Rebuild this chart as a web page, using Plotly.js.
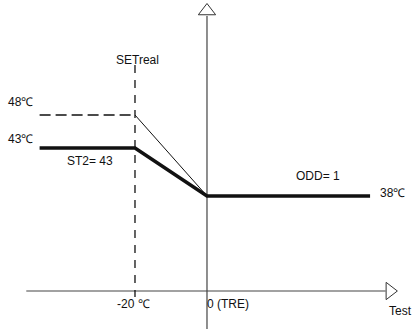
<!DOCTYPE html>
<html><head><meta charset="utf-8">
<script src="https://cdn.plot.ly/plotly-3.0.1.min.js"></script>
<style>html,body{margin:0;padding:0;background:#fff}#c{width:416px;height:329px}</style>
</head><body><div id="c"></div>
<script>
// Schematic: x = outside temperature (°C), y = schematic setpoint level
const st2X = [-46.5, -20, 0, 45.3];
const st2Level = [143, 143, 95, 95];      // thick line (43℃ -> 38℃)
const maxFlatX = [-46.5, -20];
const maxFlatLevel = [176, 176];          // dashed 48℃ part
const maxSlopeX = [-20, 0];
const maxSlopeLevel = [176, 95];          // thin slope to 38℃
const setrealX = [-20, -20];
const setrealLevel = [226, -6];
const xAxisX = [-50.2, 49.6];
const yAxisLevel = [-40, 275];
const labels = ["48℃", "43℃", "ST2= 43", "SETreal", "ODD= 1", "38℃", "-20 ℃", "0 (TRE)", "Test"];
const labelX = [-51.7, -51.7, -32.6, -19.2, 30.8, 51.6, -20.3, 5.9, 57.6];
const labelY = [189, 152, 130, 231, 115, 98, -13, -13, -20];

const font = {family: "Liberation Sans, Arial", size: 12, color: "#111"};
const traces = [
  {x: xAxisX, y: [0, 0], mode: "lines", line: {color: "#444", width: 1.2}},
  {x: [0, 0], y: yAxisLevel, mode: "lines", line: {color: "#444", width: 1.2}},
  {x: setrealX, y: setrealLevel, mode: "lines", line: {color: "#111", width: 1.3, dash: "8px,7px"}},
  {x: maxFlatX, y: maxFlatLevel, mode: "lines", line: {color: "#111", width: 1.6, dash: "11px,5px"}},
  {x: maxSlopeX, y: maxSlopeLevel, mode: "lines", line: {color: "#111", width: 1}},
  {x: st2X, y: st2Level, mode: "lines", line: {color: "#111", width: 3.5}},
  {x: [0], y: [280], mode: "markers", marker: {symbol: "triangle-up-open", size: 15, color: "#333", line: {width: 1}}},
  {x: [50.8], y: [0], mode: "markers", marker: {symbol: "triangle-right-open", size: 15, color: "#333", line: {width: 1}}}
];
traces.forEach(t => { t.hoverinfo = "skip"; t.showlegend = false; t.cliponaxis = false; });
const annotations = labels.map((t, i) => ({
  x: labelX[i], y: labelY[i], text: t, showarrow: false, font: font,
  xanchor: i === 8 ? "right" : "center", yanchor: "middle"
}));
const layout = {
  width: 416, height: 329,
  margin: {l: 0, r: 0, t: 0, b: 0},
  paper_bgcolor: "#fff", plot_bgcolor: "#fff",
  xaxis: {range: [-57.5, 58.06], visible: false, fixedrange: true},
  yaxis: {range: [-38, 291], visible: false, fixedrange: true},
  annotations: annotations,
  showlegend: false
};
Plotly.newPlot("c", traces, layout, {staticPlot: true});
</script></body></html>
